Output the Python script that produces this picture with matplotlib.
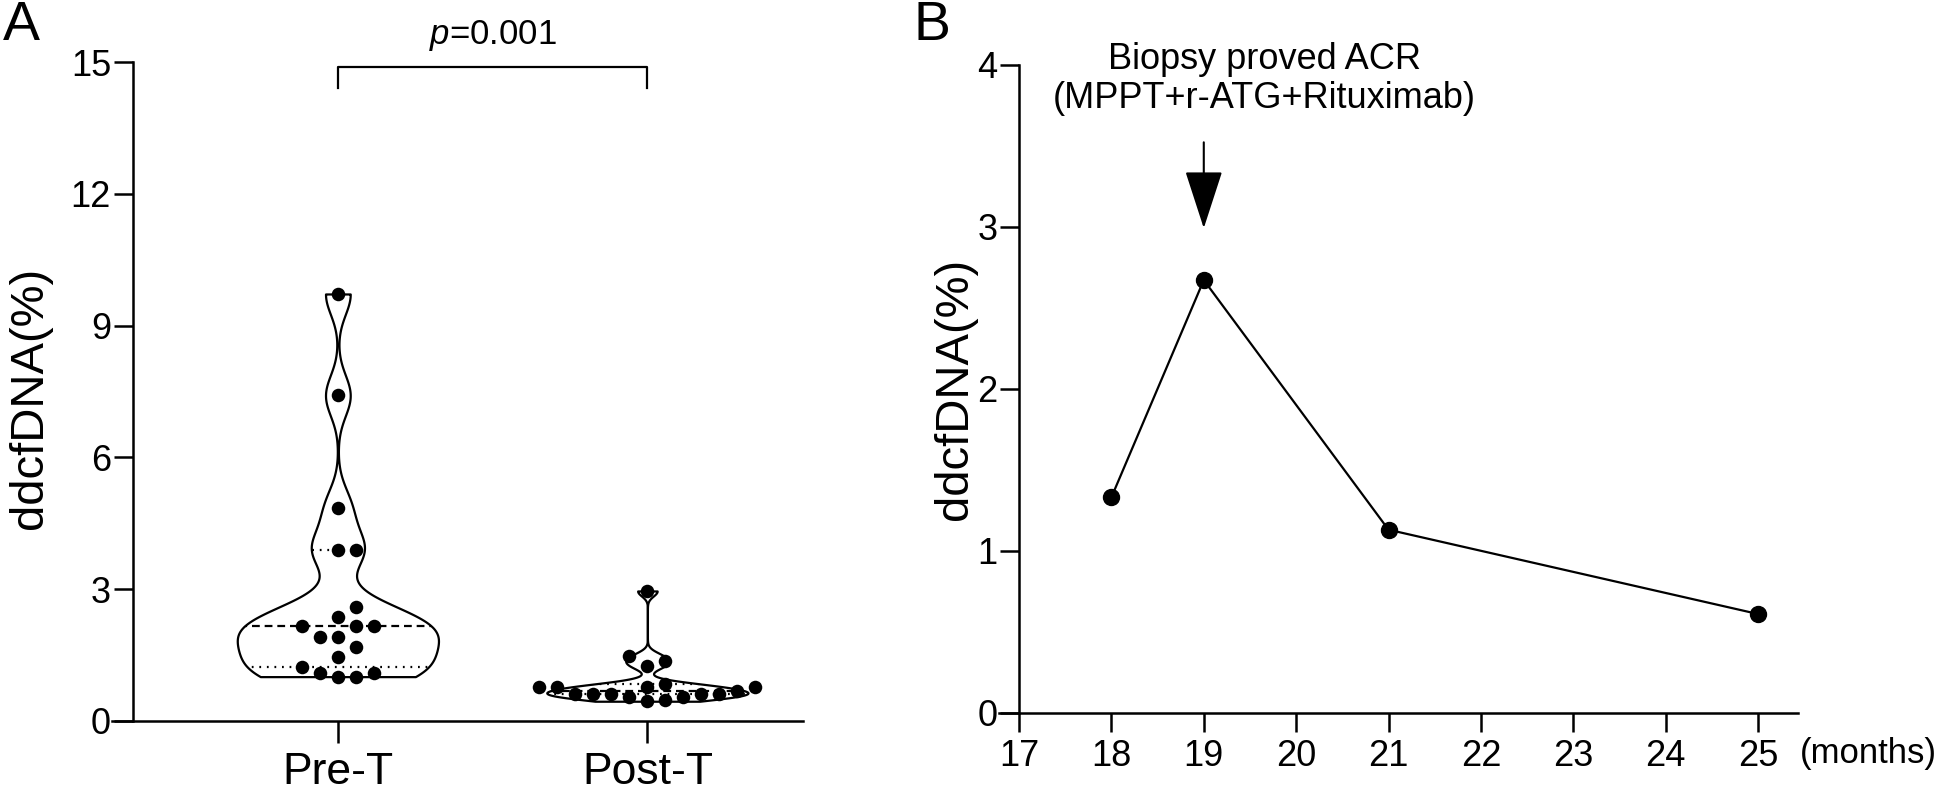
import numpy as np
import matplotlib
matplotlib.use('Agg')
import matplotlib.pyplot as plt

plt.rcParams['font.family'] = ['Liberation Sans', 'DejaVu Sans']
plt.rcParams['mathtext.fontset'] = 'custom'
plt.rcParams['mathtext.rm'] = 'Liberation Sans'
plt.rcParams['mathtext.it'] = 'Liberation Sans:italic'

# ---------------- data ----------------
groups = ['Pre-T', 'Post-T']
pre_t = [9.72, 7.41, 4.85, 3.89, 3.89, 2.60, 2.37, 2.16, 2.16, 2.16,
         1.92, 1.92, 1.69, 1.45, 1.23, 1.10, 1.10, 1.01, 1.01]
post_t = [2.96, 1.48, 1.36, 1.25, 0.84, 0.77, 0.77, 0.77, 0.77, 0.68,
          0.62, 0.62, 0.62, 0.61, 0.61, 0.55, 0.55, 0.48, 0.45]
yticks_a = [0, 3, 6, 9, 12, 15]
p_label = r'$p$=0.001'

months = [18, 19, 21, 25]
ddcf = [1.33, 2.67, 1.13, 0.61]
month_ticks = [17, 18, 19, 20, 21, 22, 23, 24, 25]
yticks_b = [0, 1, 2, 3, 4]
annot_text = 'Biopsy proved ACR\n(MPPT+r-ATG+Rituximab)'

W, H = 1944, 793
fig = plt.figure(figsize=(W / 100, H / 100), dpi=100)

LW = 1.8
YTICK_FS = 26


def swarm(values, xscale, yscale, step, d):
    """Grid beeswarm: columns `step` px apart, dots at least `d` px apart."""
    vals = np.asarray(values, float)
    order = np.argsort(vals)
    placed = []
    offs = np.zeros(len(vals))
    slots = [0]
    for k in range(1, 20):
        slots += [k, -k]
    for i in order:
        y = vals[i] * yscale
        for k in slots:
            x = k * step
            if all((x - xp) ** 2 + (y - yp) ** 2 >= d * d for xp, yp in placed):
                break
        placed.append((x, y))
        offs[i] = x / xscale
    return offs


# ---------------- Panel A ----------------
axA = fig.add_axes([111.6 / W, 72 / H, (803.4 - 111.6) / W, (721 - 62) / H])
axA.set_xlim(-0.731, 1.504)
axA.set_ylim(0, 15)
positions = [0, 1]
datasets = [pre_t, post_t]

parts = axA.violinplot(datasets, positions=positions, widths=0.65,
                       showextrema=False, bw_method=0.2, points=500)
for body in parts['bodies']:
    body.set_facecolor('white')
    body.set_edgecolor('black')
    body.set_linewidth(1.6)
    body.set_alpha(1)
    body.set_zorder(1)

for pos, data, body in zip(positions, datasets, parts['bodies']):
    q1, med, q3 = np.percentile(data, [25, 50, 75], method='weibull')
    path = body.get_paths()[0]
    for q, ls in [(med, (0, (3.5, 2.2))), (q1, (0, (0.8, 2.6))), (q3, (0, (0.8, 2.6)))]:
        ln, = axA.plot([pos - 0.4, pos + 0.4], [q, q], color='black', lw=1.6,
                       ls=ls, zorder=2)
        ln.set_clip_path(path, axA.transData)

p0 = axA.transData.transform([[0, 0]])[0]
px = axA.transData.transform([[1, 0]])[0][0] - p0[0]
py = axA.transData.transform([[0, 1]])[0][1] - p0[1]
for pos, data in zip(positions, datasets):
    offs = swarm(data, px, py, 18.0, 14.0)
    axA.scatter(pos + offs, data, s=95, color='black', zorder=3, linewidths=0)

axA.set_xticks(positions)
axA.set_xticklabels(groups)
axA.set_yticks(yticks_a)
axA.spines['top'].set_visible(False)
axA.spines['right'].set_visible(False)
axA.spines['left'].set_position(('data', -0.663))
for s in ('left', 'bottom'):
    axA.spines[s].set_linewidth(LW)
axA.tick_params(axis='y', length=13.5, width=LW, labelsize=YTICK_FS, pad=2)
axA.tick_params(axis='x', length=16, width=LW, labelsize=32, pad=6)
axA.set_ylabel('ddcfDNA(%)', fontsize=34, va='center')
axA.yaxis.set_label_coords(-0.118, 0.49)

# significance bracket
axA.plot([0, 0, 1, 1], [14.4, 14.88, 14.88, 14.4], color='black', lw=1.6,
         clip_on=False)
axA.text(0.5, 15.6, p_label, ha='center', va='center', fontsize=25)

fig.text(21 / W, 1 - 26 / H, 'A', ha='center', va='center', fontsize=40)

# ---------------- Panel B ----------------
axB = fig.add_axes([999 / W, 80.1 / H, (1798 - 999) / W, (712.9 - 64.5) / H])
axB.set_xlim(16.783, 25.433)
axB.set_ylim(0, 4)
axB.plot(months, ddcf, '-o', color='black', lw=1.6, ms=11.5, zorder=3,
         clip_on=False)
axB.set_xticks(month_ticks)
axB.set_yticks(yticks_b)
axB.spines['top'].set_visible(False)
axB.spines['right'].set_visible(False)
axB.spines['left'].set_position(('data', 17))
for s in ('left', 'bottom'):
    axB.spines[s].set_linewidth(LW)
axB.tick_params(axis='y', length=13.5, width=LW, labelsize=YTICK_FS, pad=2)
axB.tick_params(axis='x', length=14, width=LW, labelsize=26, pad=5)
axB.set_ylabel('ddcfDNA(%)', fontsize=34, va='center')
axB.yaxis.set_label_coords(-0.055, 0.50)
axB.text(26.2, -0.25, '(months)', ha='center', va='center', fontsize=25,
         clip_on=False)

axB.annotate('', xy=(19, 2.99), xytext=(19, 3.52),
             arrowprops=dict(arrowstyle='-|>,head_length=3.7,head_width=1.2',
                             mutation_scale=10, lw=1.5, color='black',
                             shrinkA=0, shrinkB=0))
axB.text(19.66, 3.91, annot_text, ha='center', va='center', fontsize=26,
         linespacing=1.15)

fig.text(932 / W, 1 - 26 / H, 'B', ha='center', va='center', fontsize=40)

fig.savefig('out.png', dpi=100)
